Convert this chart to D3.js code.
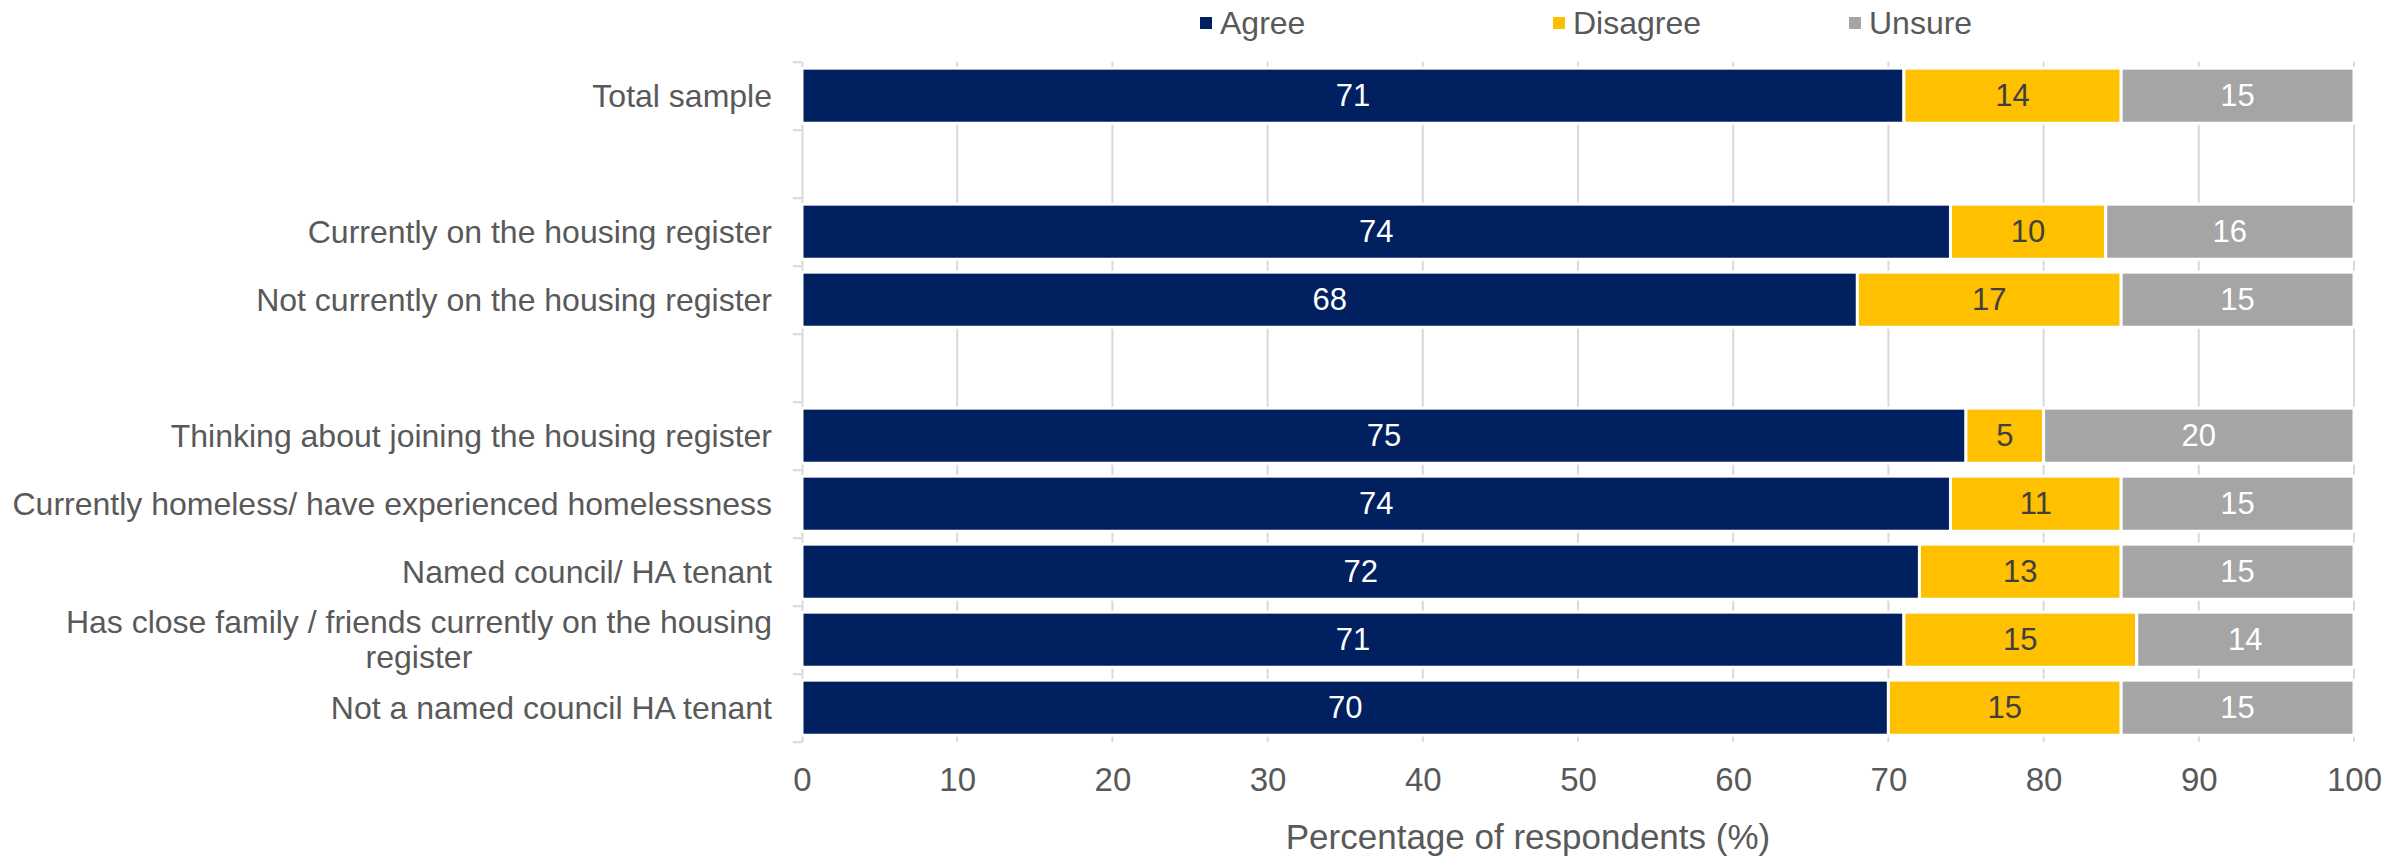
<!DOCTYPE html>
<html>
<head>
<meta charset="utf-8">
<script src="https://cdn.jsdelivr.net/npm/d3@7"></script>
<style>
  html, body { margin: 0; padding: 0; background: #ffffff; }
  svg { display: block; }
  text { font-family: "Liberation Sans", Arial, sans-serif; }
</style>
</head>
<body>
<svg id="chart" width="2407" height="857"></svg>
<script>
// ---- data ----
const categories = [
  "Total sample",
  "",
  "Currently on the housing register",
  "Not currently on the housing register",
  "",
  "Thinking about joining the housing register",
  "Currently homeless/ have experienced homelessness",
  "Named council/ HA tenant",
  "Has close family / friends currently on the housing|register",
  "Not a named council HA tenant"
];
const seriesNames = ["Agree", "Disagree", "Unsure"];
const agree    = [71, null, 74, 68, null, 75, 74, 72, 71, 70];
const disagree = [14, null, 10, 17, null, 5, 11, 13, 15, 15];
const unsure   = [15, null, 16, 15, null, 20, 15, 15, 14, 15];
const xTicks = [0, 10, 20, 30, 40, 50, 60, 70, 80, 90, 100];
const xTitle = "Percentage of respondents (%)";

(function () {
// ---- build ----
const colors = { Agree: "#002060", Disagree: "#FFC000", Unsure: "#A5A5A5" };
const labelColors = { Agree: "#ffffff", Disagree: "#404040", Unsure: "#ffffff" };

const rows = categories.map((c, i) => ({
  idx: i, label: c,
  Agree: agree[i] || 0, Disagree: disagree[i] || 0, Unsure: unsure[i] || 0,
  blank: agree[i] == null
}));

const svg = d3.select("#chart");
const pL = 802, pR = 2354, pT = 61.7, pB = 741.7;

const x = d3.scaleLinear().domain([0, 100]).range([pL, pR]);
const y = d3.scaleBand().domain(d3.range(categories.length)).range([pT, pB])
  .paddingInner(0.19).paddingOuter(0.095);
const yb = d3.scaleLinear().domain([0, categories.length]).range([pT, pB]);

// gridlines
svg.append("g")
  .selectAll("line").data(xTicks.filter(d => d > 0)).join("line")
  .attr("x1", d => x(d)).attr("x2", d => x(d))
  .attr("y1", pT).attr("y2", pB)
  .attr("stroke", "#D9D9D9").attr("stroke-width", 2);

// y axis (boundary ticks)
const yAxis = svg.append("g").attr("transform", `translate(${pL},0)`)
  .call(d3.axisLeft(yb).tickValues(d3.range(categories.length + 1)).tickFormat("").tickSize(9).tickSizeOuter(0));
yAxis.selectAll("line").attr("stroke", "#D9D9D9").attr("stroke-width", 2);
yAxis.select(".domain").attr("stroke", "#D9D9D9").attr("stroke-width", 2);

// bars
const stacked = d3.stack().keys(seriesNames)(rows);
const layers = svg.append("g").selectAll("g").data(stacked).join("g")
  .attr("fill", d => colors[d.key]);
layers.selectAll("rect").data(d => d.filter(p => !p.data.blank)).join("rect")
  .attr("x", d => x(d[0])).attr("width", d => x(d[1]) - x(d[0]))
  .attr("y", d => y(d.data.idx)).attr("height", y.bandwidth())
  .attr("stroke", "#ffffff").attr("stroke-width", 3);

// value labels
stacked.forEach(layer => {
  svg.append("g").selectAll("text").data(layer.filter(p => !p.data.blank)).join("text")
    .attr("x", d => (x(d[0]) + x(d[1])) / 2)
    .attr("y", d => y(d.data.idx) + y.bandwidth() / 2)
    .attr("text-anchor", "middle").attr("dominant-baseline", "central")
    .attr("font-size", 31).attr("fill", labelColors[layer.key])
    .text(d => d.data[layer.key]);
});

// category labels
const catG = svg.append("g");
const catSize = 32;
rows.filter(r => r.label).forEach(r => {
  const lines = r.label.split("|");
  const cy = y(r.idx) + y.bandwidth() / 2;
  const lh = 35;
  if (lines.length === 1) {
    catG.append("text").attr("x", pL - 30).attr("y", cy)
      .attr("text-anchor", "end").attr("dominant-baseline", "central")
      .attr("font-size", catSize).attr("fill", "#595959").text(lines[0]);
  } else {
    const t = catG.append("text").attr("font-size", catSize).attr("fill", "#595959")
      .attr("dominant-baseline", "central").attr("text-anchor", "middle");
    const t1 = t.append("tspan").attr("x", 0).attr("y", cy - lh / 2).text(lines[0]);
    const w = t1.node().getComputedTextLength();
    const cx = pL - 30 - w / 2;
    t1.attr("x", cx);
    t.append("tspan").attr("x", cx).attr("y", cy + lh / 2).text(lines[1]);
  }
});

// x axis labels
const xAxis = svg.append("g").attr("transform", `translate(0,${pB})`)
  .call(d3.axisBottom(x).tickValues(xTicks).tickSize(0).tickPadding(38));
xAxis.select(".domain").remove();
xAxis.selectAll("text").attr("font-size", 33).attr("fill", "#595959")
  .attr("font-family", "'Liberation Sans', Arial, sans-serif")
  .attr("dy", null).attr("dominant-baseline", "central").attr("y", 38);

svg.append("text").attr("x", 1528).attr("y", 836)
  .attr("text-anchor", "middle").attr("dominant-baseline", "central")
  .attr("font-size", 35).attr("fill", "#595959").text(xTitle);

// legend
const legendX = [1200, 1553, 1849];
const lg = svg.append("g").selectAll("g").data(seriesNames).join("g")
  .attr("transform", (d, i) => `translate(${legendX[i]},23)`);
lg.append("rect").attr("x", 0).attr("y", -6).attr("width", 12).attr("height", 12)
  .attr("fill", d => colors[d]);
lg.append("text").attr("x", 20).attr("y", 0).attr("dominant-baseline", "central")
  .attr("font-size", 32).attr("fill", "#595959").text(d => d);
})();
</script>
</body>
</html>
